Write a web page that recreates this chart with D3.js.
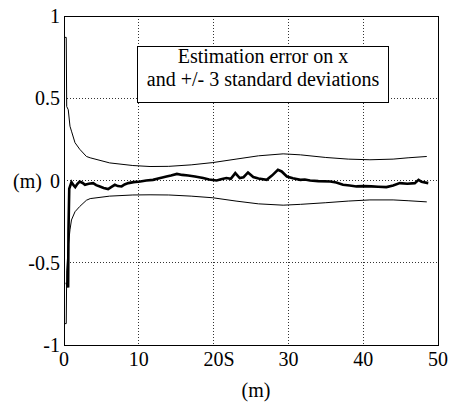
<!DOCTYPE html>
<html>
<head>
<meta charset="utf-8">
<script src="https://cdn.jsdelivr.net/npm/d3@7/dist/d3.min.js"></script>
<style>
  html, body { margin: 0; padding: 0; background: #fff; }
  svg { display: block; }
</style>
</head>
<body>
<svg id="chart" width="459" height="407"></svg>
<script>
// Distance travelled (m) and the x estimation error (m)
const errX = [0.35, 0.55, 0.6, 0.7, 1.0, 1.3, 1.5, 1.8, 2.1, 2.5, 2.8, 3.3, 3.9, 4.3, 4.8, 5.3, 5.9, 6.3, 6.8, 7.2, 7.7, 8.1, 8.6, 9.3, 10.2, 11.0, 11.9, 12.6, 13.7, 14.3, 15.1, 15.8, 16.6, 17.5, 18.6, 19.4, 20.4, 21.0, 21.7, 22.3, 22.9, 23.5, 24.0, 24.6, 25.3, 26.0, 27.1, 27.8, 28.6, 29.1, 29.8, 30.6, 31.6, 32.2, 32.9, 34.0, 35.6, 36.4, 37.3, 38.2, 39.1, 40.0, 41.1, 42.0, 43.1, 44.0, 44.9, 45.9, 46.9, 47.4, 47.8, 48.7];
const errY = [-0.62, -0.65, -0.3, -0.05, -0.01, -0.03, -0.04, -0.02, -0.006, -0.015, -0.026, -0.02, -0.016, -0.028, -0.036, -0.045, -0.052, -0.04, -0.026, -0.034, -0.036, -0.024, -0.016, -0.01, -0.006, 0.0, 0.004, 0.012, 0.024, 0.03, 0.04, 0.034, 0.03, 0.024, 0.015, 0.006, 0.0, 0.008, 0.015, 0.01, 0.045, 0.015, 0.02, 0.049, 0.021, 0.012, 0.004, 0.03, 0.065, 0.055, 0.024, 0.014, 0.004, 0.006, 0.0, -0.004, -0.006, -0.012, -0.026, -0.03, -0.036, -0.034, -0.036, -0.038, -0.04, -0.03, -0.016, -0.02, -0.016, 0.004, -0.008, -0.016];

// +/- 3 standard deviation envelope
const sigX = [0.1, 0.3, 0.36, 0.57, 0.8, 1.0, 1.47, 2.1, 3.0, 3.5, 6.1, 9.2, 11.5, 14, 17, 19.9, 23, 26, 29.3, 31.6, 35, 38, 40.9, 44, 46, 48.5];
const sigUpper = [0.87, 0.87, 0.45, 0.43, 0.33, 0.3, 0.23, 0.19, 0.146, 0.138, 0.107, 0.091, 0.085, 0.086, 0.095, 0.109, 0.13, 0.15, 0.162, 0.156, 0.14, 0.13, 0.126, 0.13, 0.138, 0.146];
const sigLower = [-0.87, -0.87, -0.55, -0.4, -0.3, -0.24, -0.19, -0.158, -0.12, -0.11, -0.095, -0.088, -0.087, -0.088, -0.095, -0.105, -0.125, -0.142, -0.15, -0.145, -0.135, -0.125, -0.118, -0.118, -0.123, -0.13];

// Axis ticks and labels
const xTicks = [0, 10, 20, 30, 40, 50];
const xTickLabels = ["0", "10", "20S", "30", "40", "50"];
const yTicks = [-1, -0.5, 0, 0.5, 1];
const yTickLabels = ["-1", "-0.5", "0", "0.5", "1"];
const legendLines = ["Estimation error on x", "and +/- 3 standard deviations"];
const xUnit = "(m)";
const yUnit = "(m)";

const FONT = "Liberation Serif";
const svg = d3.select("#chart");
const plotLeft = 64, plotRight = 438, plotTop = 16, plotBottom = 345;

const x = d3.scaleLinear().domain([0, 50]).range([plotLeft, plotRight]);
const y = d3.scaleLinear().domain([-1, 1]).range([plotBottom, plotTop]);

function label(sel, px, py, txt, anchor) {
  return sel.append("text").attr("x", px).attr("y", py)
    .attr("font-family", FONT).attr("font-size", 20).attr("fill", "#000")
    .attr("text-anchor", anchor).text(txt);
}

// Dotted grid
const grid = svg.append("g").attr("stroke", "#333").attr("stroke-width", 1)
  .attr("stroke-dasharray", "1,2").attr("shape-rendering", "crispEdges");
xTicks.filter(t => t > 0 && t < 50).forEach(t => {
  grid.append("line").attr("x1", x(t)).attr("x2", x(t)).attr("y1", plotTop).attr("y2", plotBottom);
});
yTicks.filter(t => t > -1 && t < 1).forEach(t => {
  grid.append("line").attr("x1", plotLeft).attr("x2", plotRight).attr("y1", y(t)).attr("y2", y(t));
});

// Curves
const line = d3.line().x(d => x(d[0])).y(d => y(d[1]));
const upper = sigX.map((v, i) => [v, sigUpper[i]]);
const lower = sigX.map((v, i) => [v, sigLower[i]]);
const err = errX.map((v, i) => [v, errY[i]]);

svg.append("path").attr("d", line(upper)).attr("fill", "none").attr("stroke", "#000").attr("stroke-width", 1);
svg.append("path").attr("d", line(lower)).attr("fill", "none").attr("stroke", "#000").attr("stroke-width", 1);
svg.append("path").attr("d", line(err)).attr("fill", "none").attr("stroke", "#000")
  .attr("stroke-width", 2.6).attr("stroke-linejoin", "miter");

// Frame
svg.append("rect").attr("x", plotLeft).attr("y", plotTop).attr("width", plotRight - plotLeft).attr("height", plotBottom - plotTop)
  .attr("fill", "none").attr("stroke", "#000").attr("stroke-width", 1).attr("shape-rendering", "crispEdges");

// Legend box
const lg = svg.append("g");
lg.append("rect").attr("x", 137.5).attr("y", 46.5).attr("width", 251).attr("height", 56)
  .attr("fill", "#fff").attr("stroke", "#000").attr("stroke-width", 1);
legendLines.forEach((t, i) => label(lg, 263, 63 + i * 23, t, "middle"));

// Y tick labels
yTicks.forEach((t, i) => label(svg, 60, y(t), yTickLabels[i], "end").attr("dy", "0.35em"));
label(svg, 42, y(0), yUnit, "end").attr("dy", "0.35em");

// X tick labels: numeric part centred on the tick
xTicks.forEach((t, i) => {
  const lab = xTickLabels[i];
  const num = (lab.match(/^[-\d.]+/) || [lab])[0];
  const probe = label(svg, 0, 0, num, "start");
  const w = probe.node().getComputedTextLength();
  probe.remove();
  label(svg, x(t) - w / 2, 366, lab, "start");
});
label(svg, 256, 397, xUnit, "middle");
</script>
</body>
</html>
